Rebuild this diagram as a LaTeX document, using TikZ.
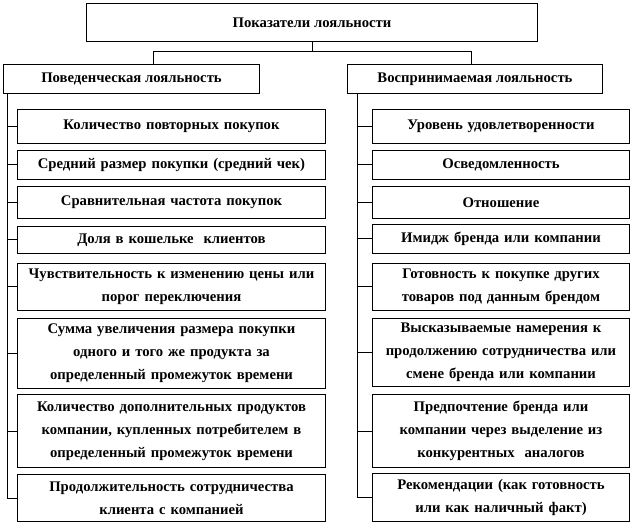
\documentclass[tikz,border=0pt]{standalone}
\usepackage{fontspec}
\setmainfont{Liberation Serif}
\begin{document}
\begin{tikzpicture}[x=1pt,y=-1pt,
  box/.style={draw, line width=1pt, rectangle, anchor=north west, inner sep=0pt, align=center,
    font=\bfseries\fontsize{14.7}{23}\selectfont},
  lbox/.style={box, minimum width=308pt, text width=302pt},
  rbox/.style={box, minimum width=257pt, text width=252pt},
  conn/.style={line width=1pt}]
\useasboundingbox (0,0) rectangle (633,524);
% headers
\node[box, minimum width=451pt, minimum height=38pt] (top) at (86,3) {Показатели лояльности};
\node[box, minimum width=256pt, minimum height=29pt] (Lh) at (3,64) {Поведенческая лояльность};
\node[box, minimum width=255pt, minimum height=29pt] (Rh) at (347,64) {Воспринимаемая лояльность};
% left column
\node[lbox, minimum height=34pt] (L1) at (17,109) {Количество повторных покупок};
\node[lbox, minimum height=29pt] (L2) at (17,150) {Средний размер покупки (средний чек)};
\node[lbox, minimum height=32pt] (L3) at (17,186) {Сравнительная частота покупок};
\node[lbox, minimum height=27pt] (L4) at (17,226) {Доля в кошельке\ \ клиентов};
\node[lbox, minimum height=47pt] (L5) at (17,263) {Чувствительность к изменению цены или\\порог переключения};
\node[lbox, minimum height=70pt] (L6) at (17,318) {Сумма увеличения размера покупки\\одного и того же продукта за\\определенный промежуток времени};
\node[lbox, minimum height=73pt] (L7) at (17,394) {Количество дополнительных продуктов\\компании, купленных потребителем в\\определенный промежуток времени};
\node[lbox, minimum height=47pt] (L8) at (17,474) {Продолжительность сотрудничества\\клиента с компанией};
% right column
\node[rbox, minimum height=34pt] (R1) at (372,109) {Уровень удовлетворенности};
\node[rbox, minimum height=29pt] (R2) at (372,150) {Осведомленность};
\node[rbox, minimum height=32pt] (R3) at (372,186) {Отношение};
\node[rbox, minimum height=29pt] (R4) at (372,224) {Имидж бренда или компании};
\node[rbox, minimum height=47pt] (R5) at (372,263) {Готовность к покупке других\\товаров под данным брендом};
\node[rbox, minimum height=68pt] (R6) at (372,318) {Высказываемые намерения к\\продолжению сотрудничества или\\смене бренда или компании};
\node[rbox, minimum height=73pt] (R7) at (372,394) {Предпочтение бренда или\\компании через выделение из\\конкурентных\ \ аналогов};
\node[rbox, minimum height=48pt] (R8) at (372,473) {Рекомендации (как готовность\\или как наличный факт)};
% top connectors
\coordinate (jl) at (153,52);
\coordinate (jr) at (471,52);
\draw[conn] (top.south) -- (top.south |- jl);
\draw[conn] (Lh.north -| jl) -- (jl) -- (jr) -- (Rh.north -| jr);
% spines
\coordinate (ls) at (7,93);
\coordinate (rs) at (357,93);
\draw[conn] (ls) -- (ls |- L8.west);
\draw[conn] (rs) -- (rs |- R8.west);
\foreach \n in {L1,L2,L3,L4,L5,L6,L7,L8} \draw[conn] (ls |- \n.west) -- (\n.west);
\foreach \n in {R1,R2,R3,R4,R5,R6,R7,R8} \draw[conn] (rs |- \n.west) -- (\n.west);
\end{tikzpicture}
\end{document}
